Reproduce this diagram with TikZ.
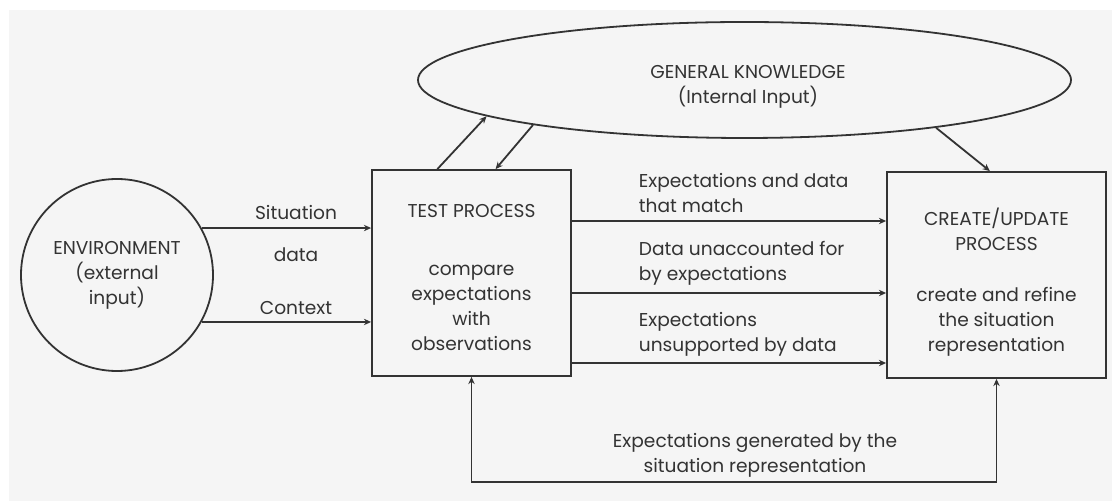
\documentclass[tikz,border=0pt]{standalone}
\usepackage{fontspec}
\setmainfont{Poppins}
\usetikzlibrary{arrows.meta,shapes.geometric,calc}

\begin{document}
\begin{tikzpicture}[
        x=0.5pt, y=-0.5pt,
        >={Stealth[length=3.6pt,width=3.2pt]},
        line width=0.9pt,
        color=black!80,
        every node/.style={font=\fontsize{9.3}{12.5}\selectfont},
        proc/.style={draw, minimum width=99.5pt, minimum height=103pt, inner sep=0pt},
        lbl/.style={align=left, inner sep=0pt, anchor=west},
        ctr/.style={align=center, inner sep=0pt}
    ]
    % Frame
    \useasboundingbox (0,0) rectangle (1112,501);
    \fill[black!4] (9,10) rectangle (1112,501);

    % General knowledge
    \node[draw, ellipse, minimum width=326.5pt, minimum height=58pt, inner sep=0pt] (gk) at (744.5,80) {};
    \node[ctr] (gktext) at (748,86.5) {GENERAL KNOWLEDGE\\(Internal Input)};

    % Environment
    \node[draw, circle, minimum size=96pt, inner sep=0pt, align=center] (env) at (117,275)
      {ENVIRONMENT\\(external\\input)};

    % Process boxes
    \node[proc] (test) at (471.5,273) {};
    \node[ctr] (testhead) at (471.5,211) {TEST PROCESS};
    \node[ctr] (testbody) at (471.5,307.5) {compare\\expectations\\with\\observations};
    \node[proc, minimum width=109.5pt] (upd) at (996.5,275) {};
    \node[ctr] (updhead) at (996.5,229.5) {CREATE/UPDATE\\PROCESS};
    \node[ctr] (updbody) at (996.5,322) {create and refine\\the situation\\representation};

    % Situation data and context
    \draw[->] (env.29) -- (env.29 -| test.west);
    \draw[->] (env.-29) -- (env.-29 -| test.west);
    \node[ctr] (sitlbl) at (296,213) {Situation};
    \node[ctr] (datalbl) at (296,255) {data};
    \node[ctr] (ctxlbl) at (296,308) {Context};

    % Results of the test
    \coordinate (r1) at (0,221);
    \coordinate (r2) at (0,293);
    \coordinate (r3) at (0,363);
    \draw[->] (test.east |- r1) -- (upd.west |- r1);
    \draw[->] (test.east |- r2) -- (upd.west |- r2);
    \draw[->] (test.east |- r3) -- (upd.west |- r3);
    \node[lbl] (matchlbl) at (638,193) {Expectations and data\\that match};
    \node[lbl] (unacclbl) at (638,263.5) {Data unaccounted for\\by expectations};
    \node[lbl] (unsuplbl) at (638,334.5) {Expectations\\unsupported by data};

    % Knowledge in and out
    \draw[->] ($(test.north west)!0.33!(test.north east)$) -- (gk.188.4);
    \draw[->] (gk.192) -- ($(test.north west)!0.62!(test.north east)$);
    \draw[->] (gk.346.4) -- ($(upd.north west)!0.47!(upd.north east)$);

    % Expectations loop
    \coordinate (lp) at (0,482);
    \draw[<->] (test.south) -- (test.south |- lp) -| (upd.south);
    \node[ctr] (genlbl) at (755,455) {Expectations generated by the\\situation representation};
\end{tikzpicture}
\end{document}
